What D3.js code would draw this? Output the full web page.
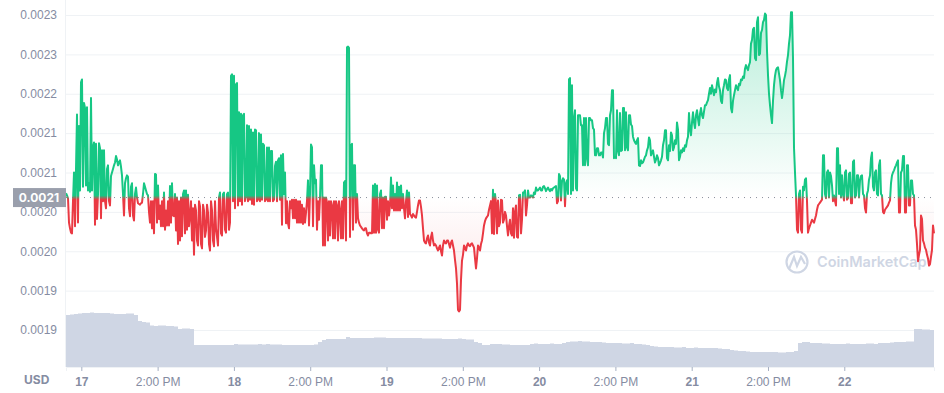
<!DOCTYPE html>
<html>
<head>
<meta charset="utf-8">
<script src="https://cdn.jsdelivr.net/npm/d3@7"></script>
<style>
  body { margin: 0; background: #fff; }
  svg { display: block; font-family: Inter, "Noto Sans", sans-serif; }
  .axis text { fill: #858ca2; font-size: 12px; }
  .axis line { stroke: #eff2f5; }
  .x-axis line { stroke: #a6b0c3; }
</style>
</head>
<body>
<div id="chart"></div>
<script>
// DATA
// price in millionths of a USD, evenly spaced readings over the whole range
const prices = [
  2061,2058,2054,2020,2012,2006,2005,2050,2090,2015,2095,2171,2020,2155,2065,2216,2220,2070,2187,2180,2072,2181,2065,2075,2063,2194,2065,2125,2132,2017,2130,2025,2060,2131,2124,2026,2121,2050,2121,2050,
  2040,2095,2100,2050,2044,2085,2090,2095,2100,2104,2113,2108,2100,2104,2107,2098,2086,2060,2030,2075,2082,2086,2084,2040,2029,2070,2075,2030,2023,2060,2069,2055,2047,2046,2045,2047,2048,2060,2075,2070,
  2065,2060,2058,2035,2020,2050,2012,2050,2005,2088,2087,2020,2072,2025,2044,2015,2050,2015,2062,2010,2037,2016,2050,2016,2071,2020,2075,2030,2029,2060,2009,2055,1990,2050,1995,2055,2001,2060,2065,2005,
  2065,2010,2059,2015,2030,2050,1995,2040,1975,2045,2037,1995,1988,2050,2043,1990,1984,2045,2037,2000,2009,2045,2034,1990,1981,2050,2037,1995,1987,2050,2012,2000,1988,2055,2062,2005,2002,2060,2062,2010,
  2006,2060,2062,2010,2020,2225,2227,2050,2225,2040,2213,2215,2044,2174,2050,2172,2045,2170,2172,2050,2057,2156,2050,2155,2052,2150,2046,2146,2045,2150,2149,2050,2052,2145,2050,2143,2052,2130,2128,2050,
  2052,2125,2050,2125,2050,2120,2120,2050,2052,2099,2105,2050,2107,2110,2052,2114,2017,2116,2060,2090,2019,2050,2019,2012,2050,2040,2052,2026,2052,2026,2052,2020,2050,2020,2050,2020,2045,2018,2040,2020,
  2034,2050,2079,2016,2060,2129,2125,2015,2100,2075,2080,2010,2050,2024,2055,2100,2100,1988,2055,1988,2055,2048,1995,2050,2002,2050,2044,1998,2050,1998,2050,2044,1995,2050,2037,1998,2050,1998,2076,2078,
  1995,2265,2266,2264,2000,2128,2130,2010,2100,2100,2020,2060,2026,2020,2016,2014,2012,2010,2009,2012,2012,2005,2002,2006,2006,2005,2005,2072,2006,2074,2006,2072,2010,2006,2060,2065,2012,2055,2012,2056,
  2056,2024,2050,2030,2044,2083,2040,2072,2037,2060,2037,2076,2037,2070,2037,2072,2040,2060,2040,2026,2050,2065,2028,2062,2032,2030,2027,2032,2030,2028,2027,2035,2044,2051,2051,2042,2030,2012,1995,1992,
  1991,1998,2002,1992,1988,2000,2006,1995,1988,1990,1988,1984,1981,1985,1988,1980,1974,1988,1995,1992,1991,1995,1995,1990,1985,1992,1995,1988,1981,1968,1956,1935,1898,1896,1898,1940,1967,1975,1988,1985,
  1981,1988,1991,1988,1987,1990,1991,1988,1985,1970,1956,1970,1988,1985,1981,1990,1995,2005,2016,2022,2026,2028,2030,2038,2044,2050,2005,2066,2004,2060,2047,2005,2051,2015,2020,2052,2051,2020,2024,2035,
  2030,2015,2002,2015,2024,2005,2002,2040,1999,2035,2044,2000,1999,2058,2059,2005,2024,2062,2062,2065,2030,2044,2065,2055,2055,2058,2057,2055,2062,2060,2069,2065,2065,2067,2069,2065,2065,2070,2071,2068,
  2064,2067,2069,2066,2064,2067,2065,2068,2069,2070,2071,2047,2050,2088,2085,2051,2078,2082,2080,2043,2075,2079,2060,2220,2222,2060,2212,2065,2165,2177,2068,2065,2170,2170,2170,2156,2156,2100,2166,2100,
  2166,2110,2100,2166,2166,2163,2163,2152,2150,2114,2114,2124,2124,2114,2114,2118,2118,2111,2145,2152,2166,2166,2130,2128,2170,2177,2205,2205,2110,2112,2110,2177,2120,2114,2173,2120,2121,2180,2180,2121,
  2174,2125,2121,2170,2170,2157,2155,2140,2135,2132,2130,2135,2138,2100,2099,2107,2103,2104,2108,2112,2114,2121,2125,2139,2135,2114,2118,2121,2112,2104,2108,2114,2110,2100,2103,2107,2112,2128,2135,2149,
  2149,2110,2107,2128,2120,2146,2142,2121,2125,2135,2130,2160,2150,2107,2112,2121,2118,2124,2120,2128,2126,2135,2140,2173,2150,2142,2160,2174,2160,2152,2170,2177,2165,2156,2172,2180,2170,2166,2175,2184,
  2184,2188,2191,2200,2208,2200,2212,2205,2198,2206,2202,2215,2222,2210,2205,2190,2187,2205,2212,2220,2219,2208,2205,2220,2226,2180,2174,2190,2198,2205,2212,2208,2205,2214,2212,2220,2219,2224,2222,2235,
  2240,2236,2233,2240,2244,2270,2275,2290,2292,2250,2247,2300,2307,2254,2256,2285,2289,2300,2303,2312,2310,2260,2226,2200,2184,2170,2159,2190,2212,2225,2233,2236,2237,2228,2219,2205,2194,2205,2219,2225,
  2233,2245,2254,2270,2282,2314,2314,2250,2125,2090,2058,2010,2006,2060,2065,2010,2006,2070,2065,2080,2082,2050,2006,2012,2016,2020,2024,2022,2020,2025,2030,2038,2044,2046,2048,2050,2052,2114,2114,2060,
  2054,2090,2093,2055,2090,2085,2072,2050,2058,2050,2044,2124,2124,2060,2100,2055,2086,2060,2051,2090,2093,2052,2054,2088,2090,2047,2047,2105,2107,2055,2058,2086,2086,2055,2079,2085,2086,2060,2058,2040,
  2034,2060,2065,2080,2086,2110,2118,2070,2065,2090,2093,2060,2058,2100,2107,2060,2058,2035,2033,2038,2040,2042,2044,2048,2051,2075,2086,2090,2093,2097,2100,2104,2107,2034,2034,2090,2093,2113,2113,2034,
  2034,2100,2100,2044,2044,2079,2079,2060,2058,2016,2010,1990,1966,1975,1982,2030,2025,1995,1991,1985,1982,1975,1970,1960,1962,1972,1982,2016,2005
];
const basePrice = 2055;

const volumes = [
  52,52.5,53,53.5,54,54,54.5,54,54,54,
  54,53.5,53,53,53,53.5,53.5,52,46,45,
  44.5,41.5,41,41.5,41.5,41,41,40.5,38,38.5,
  38.5,38,22,22,22,22,22,22,22,22,
  22,22,23,22.5,22.5,22.5,22.5,22.5,23,22.5,
  23,22.5,22.5,22.5,22,22,22,22,22,22,
  22,22,22.5,25,27,28,28,28,28,28,
  30,29,29,29,29,29,29,29.5,29.5,29.5,
  29,29,29,29,29,29,29,29,29,28.5,
  28.5,28.5,28.5,28.5,28,28,28,28,28.5,28,
  27.5,27.5,25,24,22,22,23,23,23,22.5,
  22.5,22,22,22,22,22,23,23.5,23,23,
  23,23.5,23,23,24,25,25.5,25.5,26,25.5,
  25.5,25,25,25,24.5,24,24,24,24,23.5,
  23.5,24,23,23,22.5,22,21,20.5,20,20,
  20,20,19.5,19.5,20,19,19,19.5,19,19,
  19,19,19,18.5,18,18,17,16.5,16,16,
  15.5,15,15,15,15,15,15,15,14.5,14.5,
  15,15,16,24,25,25,24,24,24,23.5,
  23.5,23,23,23,23,23.5,23,23,23,23,
  23.5,23.5,23,24,24,24,24.5,25,25,25,
  25.5,25.5,38,38,37.5,37.5,37,37
];

const priceTicks = [1870,1925,1980,2035,2090,2145,2200,2255,2310];
const timeTickLabels = ["17","2:00 PM","18","2:00 PM","19","2:00 PM","20","2:00 PM","21","2:00 PM","22"];
const baseLabel = "0.0021";

const drawChart = () => {

  // DIMENSIONS
  const width = 944;
  const height = 393;
  const margin = {left: 66, right: 10, bottom: 26};
  const plotBottom = height - margin.bottom;
  const hour = 3600 * 1000;

  // TIME
  const firstTick = Date.UTC(2022, 4, 17, 2);
  const start = firstTick - 2.41 * hour;
  const end = start + 136.52 * hour;
  const priceTime = i => start + i * (end - start) / (prices.length - 1);
  const volumeTime = i => start + i * (end - start) / (volumes.length - 1);
  const tickTimes = timeTickLabels.map((d, i) => firstTick + i * 12 * hour);

  // SCALES
  const xScale = d3.scaleUtc().domain([start, end]).range([margin.left, width - margin.right]);
  const yScale = d3.scaleLinear().domain([1870, 2310]).range([330, 15]);
  const volScale = d3.scaleLinear().domain([0, 60]).range([plotBottom, plotBottom - 60]);
  const baseY = yScale(basePrice);

  const svg = d3.select("#chart")
    .append("svg")
      .attr("width", width)
      .attr("height", height);

  // GRADIENTS
  const defs = svg.append("defs");

  const lineGrad = defs.append("linearGradient")
    .attr("id", "line-grad")
    .attr("gradientUnits", "userSpaceOnUse")
    .attr("x1", 0).attr("x2", 0)
    .attr("y1", baseY - 2).attr("y2", baseY + 2);
  lineGrad.append("stop").attr("offset", 0).attr("stop-color", "#16c784");
  lineGrad.append("stop").attr("offset", 1).attr("stop-color", "#ea3943");

  const areaGrad = defs.append("linearGradient")
    .attr("id", "area-grad")
    .attr("gradientUnits", "userSpaceOnUse")
    .attr("x1", 0).attr("x2", 0)
    .attr("y1", yScale(2310)).attr("y2", yScale(1898));
  const baseOffset = (baseY - yScale(2310)) / (yScale(1898) - yScale(2310));
  [[0, "#16c784", 0.3], [baseOffset, "#16c784", 0], [baseOffset, "#ea3943", 0], [1, "#ea3943", 0.16]]
    .forEach(s => {
      areaGrad.append("stop")
        .attr("offset", s[0])
        .attr("stop-color", s[1])
        .attr("stop-opacity", s[2]);
    });

  // Y AXIS AND GRID
  const yAxis = d3.axisLeft(yScale)
    .tickValues(priceTicks)
    .tickSize(-(width - margin.left - margin.right))
    .tickPadding(9)
    .tickFormat(d => (d / 1e6).toFixed(4));
  svg.append("g")
    .attr("class", "axis y-axis")
    .attr("transform", `translate(${margin.left}, 0)`)
    .call(yAxis)
    .call(g => g.select(".domain").remove());

  svg.append("line")
    .attr("x1", margin.left - 0.5).attr("x2", margin.left - 0.5)
    .attr("y1", 0).attr("y2", plotBottom)
    .attr("stroke", "#eff2f5");

  // WATERMARK
  const mark = svg.append("g").attr("fill", "none").attr("stroke", "#cfd6e4");
  mark.append("circle")
    .attr("cx", 797).attr("cy", 262).attr("r", 10.5)
    .attr("stroke-width", 2.2);
  mark.append("path")
    .attr("d", "M789 269 L794 257 L797 266 L801 257 L805 264")
    .attr("stroke-width", 2.2);
  svg.append("text")
    .attr("x", 817).attr("y", 267)
    .attr("fill", "#cfd6e4")
    .attr("font-size", 14.5)
    .attr("font-weight", 600)
    .text("CoinMarketCap");

  // VOLUME
  const volArea = d3.area()
    .x((d, i) => xScale(volumeTime(i)))
    .y0(plotBottom)
    .y1(d => volScale(d))
    .curve(d3.curveStepAfter);
  svg.append("path")
    .datum(volumes)
    .attr("d", volArea)
    .attr("fill", "#cfd6e4");

  // PRICE AREA AND LINE
  const priceArea = d3.area()
    .x((d, i) => xScale(priceTime(i)))
    .y0(baseY)
    .y1(d => yScale(d));
  svg.append("path")
    .datum(prices)
    .attr("d", priceArea)
    .attr("fill", "url(#area-grad)");

  const priceLine = d3.line()
    .x((d, i) => xScale(priceTime(i)))
    .y(d => yScale(d));

  // base price dotted line
  svg.append("line")
    .attr("x1", margin.left).attr("x2", width - margin.right)
    .attr("y1", baseY).attr("y2", baseY)
    .attr("stroke", "#8a8f9c")
    .attr("stroke-dasharray", "1 5");

  svg.append("path")
    .datum(prices)
    .attr("d", priceLine)
    .attr("fill", "none")
    .attr("stroke", "url(#line-grad)")
    .attr("stroke-width", 2)
    .attr("stroke-linejoin", "round");

  // BASE PRICE TAG
  svg.append("rect")
    .attr("x", 13).attr("y", baseY - 9.5)
    .attr("width", margin.left - 13).attr("height", 19)
    .attr("fill", "#9a9fac");
  svg.append("text")
    .attr("x", 39).attr("y", baseY + 4)
    .attr("text-anchor", "middle")
    .attr("fill", "#fff")
    .attr("font-size", 12)
    .attr("font-weight", 700)
    .text(baseLabel);

  // X AXIS
  const xAxis = d3.axisBottom(xScale)
    .tickValues(tickTimes)
    .tickSize(4)
    .tickPadding(6)
    .tickFormat((d, i) => timeTickLabels[i]);
  svg.append("g")
    .attr("class", "axis x-axis")
    .attr("transform", `translate(0, ${plotBottom})`)
    .call(xAxis)
    .call(g => g.select(".domain").attr("stroke", "#eff2f5"))
    .call(g => g.selectAll("text")
      .attr("font-weight", (d, i) => i % 2 === 0 ? 700 : 400));

  svg.append("text")
    .attr("x", 24).attr("y", 384)
    .attr("fill", "#858ca2")
    .attr("font-size", 12)
    .attr("font-weight", 700)
    .text("USD");
};

drawChart();
</script>
</body>
</html>
